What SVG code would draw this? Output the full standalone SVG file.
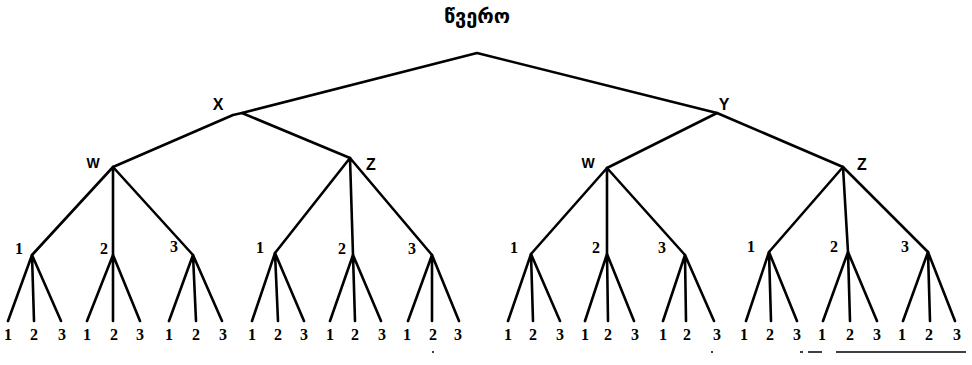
<svg xmlns="http://www.w3.org/2000/svg" width="972" height="365" viewBox="0 0 972 365">
<style>
.e{stroke:#000;stroke-width:2.6;fill:none;stroke-linecap:round;stroke-linejoin:round}
.t{font-family:"DejaVu Sans",sans-serif;font-weight:bold;font-size:20px;fill:#000}
.s{font-family:"Liberation Sans",Arial,sans-serif;font-weight:bold;font-size:16px;fill:#000;text-anchor:middle}
.n{font-family:"Liberation Serif","Times New Roman",serif;font-weight:bold;font-size:16px;fill:#000;text-anchor:middle}
.a{stroke:#000;stroke-width:1.6;fill:none}
</style>
<rect width="972" height="365" fill="#fff"/>
<g id="connectors" class="e">
<path d="M242 113 L477 53 L717 113"/>
<path d="M113 167 L233 115 L242 113 L350 158"/>
<path d="M607 168 L717 113 L843 167"/>
<path d="M32 255 L113 167 L193 255 M113 167 L113 255"/>
<path d="M275 253 L350 158 L432 255 M350 158 L353 255"/>
<path d="M531 254 L607 168 L685 255 M607 168 L607 254"/>
<path d="M769 252 L843 167 L928 252 M843 167 L848 252"/>
<path d="M8 321 L32 255 L61 321 M32 255 L34 321"/>
<path d="M87 321 L113 255 L140 321 M113 255 L113 321"/>
<path d="M169 321 L193 255 L222 321 M193 255 L196 321"/>
<path d="M252 321 L275 253 L304 321 M275 253 L278 321"/>
<path d="M330 321 L353 255 L381 321 M353 255 L355 321"/>
<path d="M408 321 L432 255 L459 321 M432 255 L432 321"/>
<path d="M508 321 L531 254 L560 321 M531 254 L533 321"/>
<path d="M585 321 L607 254 L634 321 M607 254 L608 321"/>
<path d="M663 321 L685 255 L714 321 M685 255 L686 321"/>
<path d="M746 321 L769 252 L797 321 M769 252 L771 321"/>
<path d="M823 321 L848 252 L877 321 M848 252 L850 321"/>
<path d="M903 321 L928 252 L955 321 M928 252 L930 321"/>
</g>
<g id="root"><text class="t" x="477" y="23" text-anchor="middle">წვერო</text></g>
<g id="X"><text class="s" x="218" y="110">X</text></g>
<g id="Y"><text class="s" x="724" y="110">Y</text></g>
<g id="XW"><text class="s" x="93" y="168" style="font-size:14px">W</text></g>
<g id="XZ"><text class="s" x="371" y="170">Z</text></g>
<g id="YW"><text class="s" x="588" y="168" style="font-size:14px">W</text></g>
<g id="YZ"><text class="s" x="862" y="170">Z</text></g>
<g id="XW1"><text class="n" x="19" y="254">1</text></g>
<g id="XW2"><text class="n" x="104" y="254">2</text></g>
<g id="XW3"><text class="n" x="174" y="252">3</text></g>
<g id="XZ1"><text class="n" x="260" y="253">1</text></g>
<g id="XZ2"><text class="n" x="342" y="254">2</text></g>
<g id="XZ3"><text class="n" x="412" y="254">3</text></g>
<g id="YW1"><text class="n" x="514" y="253">1</text></g>
<g id="YW2"><text class="n" x="596" y="253">2</text></g>
<g id="YW3"><text class="n" x="662" y="253">3</text></g>
<g id="YZ1"><text class="n" x="751" y="252">1</text></g>
<g id="YZ2"><text class="n" x="834" y="252">2</text></g>
<g id="YZ3"><text class="n" x="905" y="252">3</text></g>
<g id="leaves" class="n">
<g id="l1"><text x="8" y="340">1</text><text x="34" y="340">2</text><text x="62" y="340">3</text></g>
<g id="l2"><text x="87" y="340">1</text><text x="114" y="340">2</text><text x="140" y="340">3</text></g>
<g id="l3"><text x="169" y="340">1</text><text x="196" y="340">2</text><text x="223" y="340">3</text></g>
<g id="l4"><text x="252" y="340">1</text><text x="278" y="340">2</text><text x="304" y="340">3</text></g>
<g id="l5"><text x="330" y="340">1</text><text x="355" y="340">2</text><text x="382" y="340">3</text></g>
<g id="l6"><text x="407" y="340">1</text><text x="433" y="340">2</text><text x="458" y="340">3</text></g>
<g id="l7"><text x="508" y="340">1</text><text x="533" y="340">2</text><text x="560" y="340">3</text></g>
<g id="l8"><text x="585" y="340">1</text><text x="608" y="340">2</text><text x="635" y="340">3</text></g>
<g id="l9"><text x="663" y="340">1</text><text x="687" y="340">2</text><text x="717" y="340">3</text></g>
<g id="l10"><text x="744" y="340">1</text><text x="770" y="340">2</text><text x="797" y="340">3</text></g>
<g id="l11"><text x="822" y="340">1</text><text x="850" y="340">2</text><text x="877" y="340">3</text></g>
<g id="l12"><text x="902" y="340">1</text><text x="929" y="340">2</text><text x="957" y="340">3</text></g>
</g>
<g id="marks" class="a">
<path d="M432 352 h2 M711 352 h2 M800 352 h3 M808 352 h14 M836 352 h130"/>
</g>
</svg>
